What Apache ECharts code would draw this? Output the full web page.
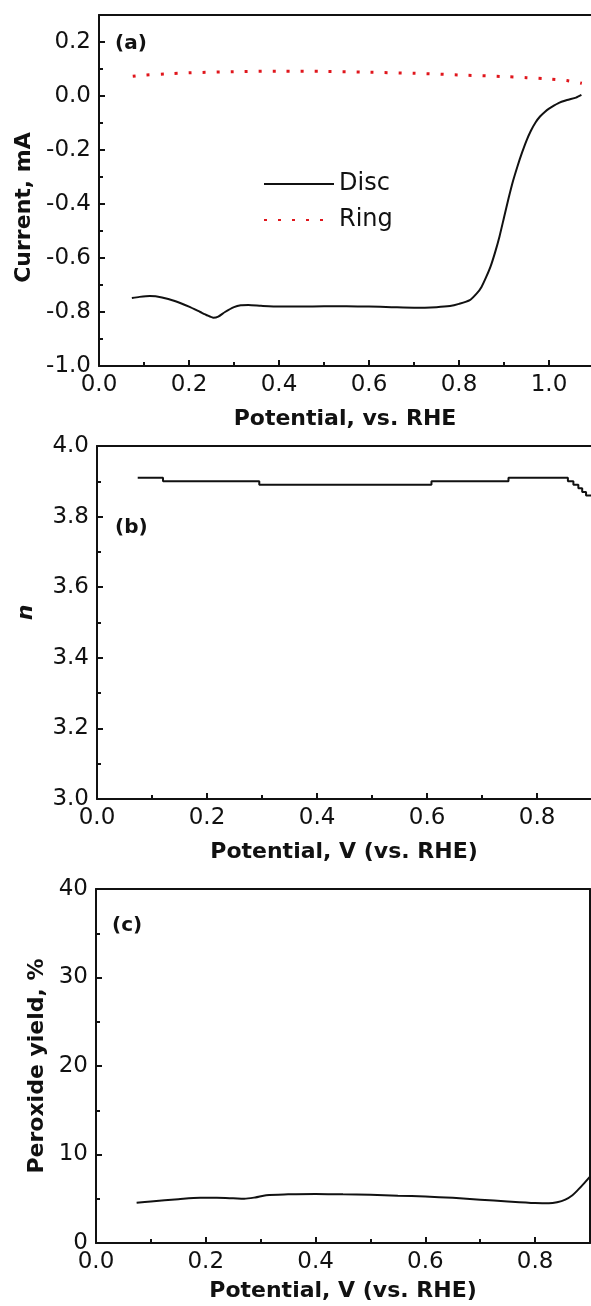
<!DOCTYPE html>
<html>
<head>
<meta charset="utf-8">
<script src="https://cdn.jsdelivr.net/npm/echarts@6/dist/echarts.min.js"></script>
<style>
  html, body { margin: 0; padding: 0; background: #fff; }
  #chart { width: 591px; height: 1306px; }
</style>
</head>
<body>
<div id="chart"></div>
<script>
// (a) disc / ring currents, mA
const discX = [0.073, 0.09, 0.113, 0.14, 0.17, 0.2, 0.225, 0.24, 0.254, 0.265, 0.28, 0.3, 0.315, 0.332, 0.36, 0.4, 0.45, 0.5, 0.55, 0.6, 0.65, 0.7, 0.75, 0.78, 0.8, 0.824, 0.84, 0.85, 0.86, 0.87, 0.88, 0.89, 0.9, 0.91, 0.92, 0.93, 0.94, 0.95, 0.96, 0.97, 0.98, 0.99, 1.0, 1.02, 1.04, 1.06, 1.072];
const discY = [-0.748, -0.744, -0.741, -0.746, -0.76, -0.78, -0.8, -0.812, -0.821, -0.817, -0.8, -0.782, -0.775, -0.774, -0.777, -0.78, -0.78, -0.779, -0.779, -0.78, -0.782, -0.784, -0.782, -0.778, -0.77, -0.756, -0.73, -0.707, -0.672, -0.632, -0.58, -0.52, -0.45, -0.38, -0.315, -0.26, -0.21, -0.165, -0.128, -0.098, -0.076, -0.06, -0.047, -0.027, -0.015, -0.006, 0.004];
const ringX = [0.075, 0.1, 0.15, 0.2, 0.3, 0.4, 0.5, 0.6, 0.7, 0.8, 0.9, 0.95, 1.0, 1.04, 1.073];
const ringY = [0.073, 0.077, 0.082, 0.086, 0.09, 0.092, 0.091, 0.088, 0.084, 0.078, 0.072, 0.068, 0.063, 0.057, 0.047];

// (b) electron transfer number n (stepped)
const nX = [0.074, 0.12, 0.295, 0.608, 0.748, 0.856, 0.866, 0.875, 0.882, 0.889, 0.9];
const nY = [3.91, 3.90, 3.89, 3.90, 3.91, 3.90, 3.89, 3.88, 3.87, 3.86, 3.86];

// (c) peroxide yield, %
const yieldX = [0.074, 0.1, 0.15, 0.19, 0.22, 0.25, 0.27, 0.29, 0.31, 0.35, 0.4, 0.45, 0.5, 0.55, 0.6, 0.65, 0.7, 0.75, 0.8, 0.825, 0.84, 0.855, 0.868, 0.878, 0.89, 0.9];
const yieldY = [4.55, 4.7, 4.95, 5.1, 5.1, 5.05, 5.0, 5.15, 5.4, 5.5, 5.55, 5.5, 5.45, 5.35, 5.25, 5.1, 4.9, 4.7, 4.52, 4.48, 4.6, 4.9, 5.4, 6.0, 6.8, 7.5];

// tick positions
const aXMajor = [0.0, 0.2, 0.4, 0.6, 0.8, 1.0];
const aXMinor = [0.1, 0.3, 0.5, 0.7, 0.9];
const aYMajor = [-1.0, -0.8, -0.6, -0.4, -0.2, 0.0, 0.2];
const aYMinor = [-0.9, -0.7, -0.5, -0.3, -0.1, 0.1];
const bcXMajor = [0.0, 0.2, 0.4, 0.6, 0.8];
const bcXMinor = [0.1, 0.3, 0.5, 0.7];
const bYMajor = [3.0, 3.2, 3.4, 3.6, 3.8, 4.0];
const bYMinor = [3.1, 3.3, 3.5, 3.7, 3.9];
const cYMajor = [0, 10, 20, 30, 40];
const cYMinor = [5, 15, 25, 35];

const FONT = "DejaVu Sans";
const INK = "#111";
const RED = "#e0161c";

const zip = (xs, ys) => xs.map((x, i) => [x, ys[i]]);

// major axis: line, labels, long ticks, name
const majorAxis = (grid, pos, min, max, ticks, digits, name, extra) => Object.assign({
  type: "value",
  gridIndex: grid,
  position: pos,
  min: min,
  max: max,
  splitLine: { show: false },
  axisLine: { show: true, onZero: false, lineStyle: { color: INK, width: 2 } },
  axisTick: { show: true, inside: true, length: 6, customValues: ticks, lineStyle: { color: INK, width: 2 } },
  axisLabel: {
    customValues: ticks,
    margin: 8,
    fontFamily: FONT,
    fontSize: 23,
    color: INK,
    formatter: (v) => Number(v).toFixed(digits),
  },
  name: name,
  nameLocation: "middle",
  nameTextStyle: { fontFamily: FONT, fontSize: 22, fontWeight: "bold", color: INK },
}, extra || {});

// minor axis: only short ticks
const minorAxis = (grid, pos, min, max, ticks) => ({
  type: "value",
  gridIndex: grid,
  position: pos,
  min: min,
  max: max,
  splitLine: { show: false },
  axisLine: { show: false, onZero: false },
  axisLabel: { show: false },
  axisTick: { show: true, inside: true, length: 4, customValues: ticks, lineStyle: { color: INK, width: 2 } },
});

// frame edge: plain line, nothing else
const edgeAxis = (grid, pos, min, max) => ({
  type: "value",
  gridIndex: grid,
  position: pos,
  min: min,
  max: max,
  splitLine: { show: false },
  axisLine: { show: true, onZero: false, lineStyle: { color: INK, width: 2 } },
  axisTick: { show: false },
  axisLabel: { show: false },
});

const chart = echarts.init(document.getElementById("chart"), null, { renderer: "canvas" });

const titleStyle = { fontFamily: FONT, fontSize: 20, fontWeight: "bold", color: INK };

const option = {
  backgroundColor: "#fff",
  animation: false,
  textStyle: { fontFamily: FONT, color: INK },
  title: [
    { text: "(a)", left: 110, top: 29, textStyle: titleStyle },
    { text: "(b)", left: 110, top: 513, textStyle: titleStyle },
    { text: "(c)", left: 107, top: 911, textStyle: titleStyle },
  ],
  legend: {
    data: ["Disc", "Ring"],
    orient: "vertical",
    left: 258,
    top: 167,
    itemWidth: 70,
    itemHeight: 14,
    itemGap: 12,
    itemStyle: { opacity: 0 },
    textStyle: { fontFamily: FONT, fontSize: 24, color: INK, lineHeight: 24 },
  },
  grid: [
    { left: 99, top: 15, width: 492, height: 351 },
    { left: 97, top: 446, width: 494, height: 353 },
    { left: 96, top: 889, width: 494, height: 354 },
  ],
  xAxis: [
    majorAxis(0, "bottom", 0, 1.0933, aXMajor, 1, "Potential, vs. RHE", { nameGap: 42 }),
    minorAxis(0, "bottom", 0, 1.0933, aXMinor),
    majorAxis(1, "bottom", 0, 0.898, bcXMajor, 1, "Potential, V (vs. RHE)", { nameGap: 42 }),
    minorAxis(1, "bottom", 0, 0.898, bcXMinor),
    majorAxis(2, "bottom", 0, 0.9, bcXMajor, 1, "Potential, V (vs. RHE)", { nameGap: 37 }),
    minorAxis(2, "bottom", 0, 0.9, bcXMinor),
    edgeAxis(0, "top", 0, 1.0933),
    edgeAxis(1, "top", 0, 0.898),
    edgeAxis(2, "top", 0, 0.9),
  ],
  yAxis: [
    majorAxis(0, "left", -1.0, 0.3, aYMajor, 1, "Current, mA", { nameGap: 61, nameRotate: 90 }),
    minorAxis(0, "left", -1.0, 0.3, aYMinor),
    majorAxis(1, "left", 3.0, 4.0, bYMajor, 1, "n", { nameGap: 60, nameRotate: 90 }),
    minorAxis(1, "left", 3.0, 4.0, bYMinor),
    majorAxis(2, "left", 0, 40, cYMajor, 0, "Peroxide yield, %", { nameGap: 38, nameRotate: 90 }),
    minorAxis(2, "left", 0, 40, cYMinor),
    edgeAxis(2, "right", 0, 40),
  ],
  series: [
    {
      name: "Disc",
      type: "line",
      xAxisIndex: 0,
      yAxisIndex: 0,
      data: zip(discX, discY),
      smooth: 0.2,
      symbol: "none",
      lineStyle: { color: INK, width: 2 },
      itemStyle: { color: INK },
    },
    {
      name: "Ring",
      type: "line",
      xAxisIndex: 0,
      yAxisIndex: 0,
      data: zip(ringX, ringY),
      smooth: 0.3,
      symbol: "none",
      lineStyle: { color: RED, width: 3, type: [3, 11] },
      itemStyle: { color: RED },
    },
    {
      name: "n",
      type: "line",
      xAxisIndex: 2,
      yAxisIndex: 2,
      data: zip(nX, nY),
      step: "end",
      symbol: "none",
      lineStyle: { color: INK, width: 2 },
    },
    {
      name: "Peroxide",
      type: "line",
      xAxisIndex: 4,
      yAxisIndex: 4,
      data: zip(yieldX, yieldY),
      smooth: 0.3,
      symbol: "none",
      lineStyle: { color: INK, width: 2 },
    },
  ],
};

// italic n for panel (b), nudged a little above centre
option.yAxis[2].nameTextStyle = Object.assign({}, option.yAxis[2].nameTextStyle, { fontStyle: "italic", padding: [0, 0, 0, 20] });
// panel (a) y title sits a little below the middle of the axis
option.yAxis[0].nameTextStyle = Object.assign({}, option.yAxis[0].nameTextStyle, { padding: [0, 34, 0, 0] });

chart.setOption(option);
window.addEventListener("resize", () => chart.resize());
</script>
</body>
</html>
